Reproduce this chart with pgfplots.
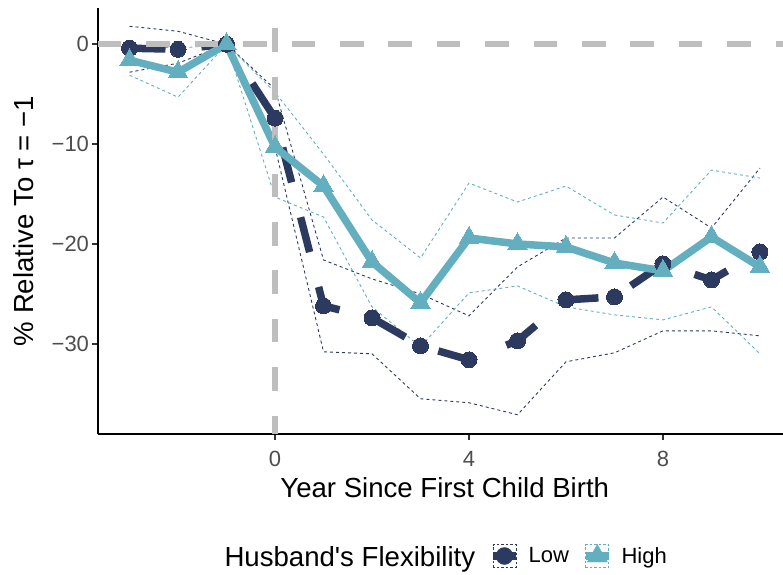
\documentclass[border=0pt]{standalone}
\usepackage{fontspec}
\setmainfont{Liberation Sans}
\newfontfamily\plainfont{Liberation Sans}
\usepackage{pgfplots}
\pgfplotsset{compat=1.18}
\usepackage{pgfplotstable}
\definecolor{lowc}{HTML}{2B3A5E}
\definecolor{highc}{HTML}{64AFBF}
\definecolor{refgray}{HTML}{BEBEBE}
\definecolor{tickc}{HTML}{4D4D4D}

\pgfplotstableread{
x y up lo
-3 -0.4 1.8 -2.8
-2 -0.5 1.3 -1.9
-1 0 0 0
0 -7.4 -4.5 -10.3
1 -26.2 -21.6 -30.8
2 -27.4 -23.5 -31.0
3 -30.2 -25.0 -35.5
4 -31.6 -27.2 -35.9
5 -29.7 -22.3 -37.1
6 -25.6 -19.4 -31.8
7 -25.3 -19.4 -30.9
8 -22.0 -15.3 -28.7
9 -23.6 -18.4 -28.7
10 -20.8 -12.4 -29.2
}\lowdata

\pgfplotstableread{
x y up lo
-3 -1.6 -0.1 -3.1
-2 -2.8 -0.4 -5.3
-1 0 0 0
0 -10.3 -4.8 -15.3
1 -14.2 -11.0 -17.3
2 -21.8 -17.6 -26.3
3 -25.9 -21.4 -30.3
4 -19.4 -13.9 -24.9
5 -20.0 -15.8 -24.2
6 -20.3 -14.2 -26.3
7 -21.9 -17.1 -27.1
8 -22.7 -17.9 -27.6
9 -19.3 -12.6 -26.3
10 -22.3 -13.4 -31.0
}\highdata

\begin{document}
\begin{tikzpicture}
\useasboundingbox (-98bp,-141bp) rectangle (685bp,434bp);
\begin{axis}[
  at={(0,0)}, anchor=south west,
  scale only axis, width=693.5bp, height=426bp,
  xmin=-3.65, xmax=10.65, ymin=-39.03, ymax=3.63,
  axis x line*=bottom, axis y line*=left,
  axis line style={line width=1.6bp, black, -},
  xtick={0,4,8}, xticklabels={0,4,8},
  ytick={-30,-20,-10,0}, yticklabels={−30,−20,−10,0},
  tick align=outside, major tick length=5.5bp,
  every tick/.style={line width=1.6bp, color=black!80},
  tick label style={font=\fontsize{22bp}{26bp}\selectfont, text=tickc},
  xticklabel style={yshift=-8bp},
  label style={font=\fontsize{27.6bp}{32bp}\selectfont, text=black},
  xlabel={Year Since First Child Birth},
  ylabel={\% Relative To τ = −1},
  x label style={at={(axis description cs:0.5,-0.1479)}, anchor=base},
  y label style={at={(axis description cs:-0.0937,0.5)}, anchor=base, rotate=0},
  legend style={at={(axis description cs:0.6936,-0.2864)}, anchor=center,
    draw=none, fill=none, inner sep=0pt,
    font=\fontsize{22bp}{26bp}\selectfont,
    /tikz/every odd column/.append style={column sep=7bp},
    /tikz/every even column/.append style={column sep=11bp}},
  legend columns=-1,
]
% confidence bands
\addplot[forget plot, lowc, line width=0.9bp, dash pattern=on 3bp off 3bp] table[x=x,y=up]{\lowdata};
\addplot[forget plot, lowc, line width=0.9bp, dash pattern=on 3bp off 3bp] table[x=x,y=lo]{\lowdata};
\addplot[forget plot, highc, line width=0.9bp, dash pattern=on 3bp off 3bp] table[x=x,y=up]{\highdata};
\addplot[forget plot, highc, line width=0.9bp, dash pattern=on 3bp off 3bp] table[x=x,y=lo]{\highdata};
% estimates
\addplot[forget plot, lowc, line width=7.5bp, dash pattern=on 36bp off 36bp,
  mark=*, mark size=8bp, mark options={solid, line width=0pt, fill=lowc}] table[x=x,y=y]{\lowdata};
\addplot[forget plot, highc, line width=7.5bp, line join=round,
  mark=triangle*, mark size=11.5bp, mark options={solid, line width=0pt, fill=highc}] table[x=x,y=y]{\highdata};
% reference lines
\addplot[forget plot, refgray, line width=6.5bp, dash pattern=on 23.5bp off 24.9bp] coordinates {(-3.65,0) (10.65,0)};
\addplot[forget plot, refgray, line width=6.5bp, dash pattern=on 23.5bp off 24.9bp, dash phase=5.2bp] coordinates {(0,-39.03) (0,3.63)};
% legend
\addlegendimage{legend image code/.code={
  \draw[lowc, line width=0.8bp, dash pattern=on 2.5bp off 2bp] (0bp,-11.5bp) rectangle (23bp,11.5bp);
  \draw[lowc, line width=7.5bp] (0bp,0bp) -- (23bp,0bp);
  \fill[lowc] (11.5bp,0bp) circle (8.5bp);
}}
\addlegendentry{Low}
\addlegendimage{legend image code/.code={
  \draw[highc, line width=0.8bp, dash pattern=on 2.5bp off 2bp] (0bp,-11.5bp) rectangle (23bp,11.5bp);
  \draw[highc, line width=7.5bp] (0bp,0bp) -- (23bp,0bp);
  \fill[highc] (11.5bp,11.5bp) -- (1.5bp,-6bp) -- (21.5bp,-6bp) -- cycle;
}}
\addlegendentry{High}
\end{axis}
\node[anchor=base west, font=\plainfont\fontsize{27.6bp}{32bp}\selectfont] at (123bp,-132bp) {Husband's Flexibility};
\end{tikzpicture}
\end{document}
